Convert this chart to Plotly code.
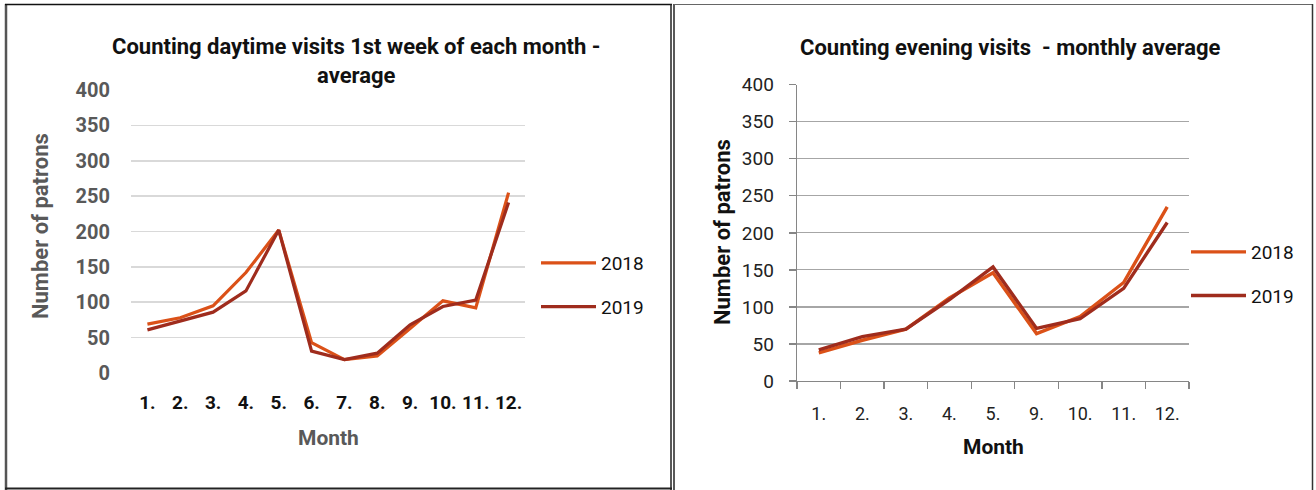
import plotly.graph_objects as go

# ---------------- data ----------------
months_day = ["1.", "2.", "3.", "4.", "5.", "6.", "7.", "8.", "9.", "10.", "11.", "12."]
day_2018 = [69, 78, 95, 142, 202, 43, 19, 24, 63, 102, 92, 255]
day_2019 = [61, 74, 86, 116, 202, 31, 19, 28, 68, 94, 103, 241]

months_eve = ["1.", "2.", "3.", "4.", "5.", "9.", "10.", "11.", "12."]
eve_2018 = [38, 55, 70, 112, 146, 64, 87, 133, 235]
eve_2019 = [42, 60, 70, 110, 154, 71, 84, 125, 214]

y_ticks = [0, 50, 100, 150, 200, 250, 300, 350, 400]
series_names = ["2018", "2019"]

# ---------------- styling ----------------
W, H = 1316, 490
C2018 = "#DB5118"
C2019 = "#9F2C1D"
FONT = "Roboto"


def px(x):
    return x / W


def py(y):
    return 1 - y / H


fig = go.Figure()

# left chart
fig.add_trace(go.Scatter(x=months_day, y=day_2018, name=series_names[0], mode="lines",
                         line=dict(color=C2018, width=3.2), xaxis="x", yaxis="y",
                         legend="legend", legendgroup="a", hoverinfo="skip"))
fig.add_trace(go.Scatter(x=months_day, y=day_2019, name=series_names[1], mode="lines",
                         line=dict(color=C2019, width=3.2), xaxis="x", yaxis="y",
                         legend="legend", legendgroup="b", hoverinfo="skip"))
# right chart
fig.add_trace(go.Scatter(x=months_eve, y=eve_2018, name=series_names[0], mode="lines",
                         line=dict(color=C2018, width=3.4), xaxis="x2", yaxis="y2",
                         legend="legend2", legendgroup="c", hoverinfo="skip"))
fig.add_trace(go.Scatter(x=months_eve, y=eve_2019, name=series_names[1], mode="lines",
                         line=dict(color=C2019, width=3.4), xaxis="x2", yaxis="y2",
                         legend="legend2", legendgroup="d", hoverinfo="skip"))

fig.update_layout(
    template="none",
    width=W, height=H, autosize=False,
    margin=dict(l=0, r=0, t=0, b=0, pad=0, autoexpand=False),
    paper_bgcolor="white", plot_bgcolor="white",
    font=dict(family=FONT, color="#222222"),
    xaxis=dict(domain=[px(131), px(525)], type="category", range=[-0.5, 11.5],
               showgrid=False, showline=False, zeroline=False, automargin=False,
               ticks="", ticklabelstandoff=16, anchor="y",
               tickfont=dict(family=FONT, size=19, color="#111111", weight="bold")),
    yaxis=dict(domain=[py(373), py(90)], range=[0, 400], tickvals=y_ticks,
               showgrid=True, gridcolor="#D9D9D9", gridwidth=1.6, automargin=False,
               zeroline=False, showline=False, ticks="", ticklabelstandoff=20, anchor="x",
               tickfont=dict(family=FONT, size=20, color="#595959", weight="bold")),
    xaxis2=dict(domain=[px(797), px(1189)], type="category", range=[-0.5, 8.5],
                showgrid=False, showline=True, linecolor="#868686", linewidth=1.3,
                zeroline=False, ticks="outside", tickson="boundaries", ticklen=7,
                tickcolor="#868686", tickwidth=1.3, ticklabelstandoff=16,
                anchor="y2", automargin=False,
                tickfont=dict(family=FONT, size=18, color="#222222")),
    yaxis2=dict(domain=[py(381), py(84.7)], range=[0, 400], tickvals=y_ticks,
                showgrid=True, gridcolor="#A6A6A6", gridwidth=1.2, automargin=False,
                zeroline=False, showline=True, linecolor="#868686", linewidth=1.3,
                ticks="outside", ticklen=7, tickcolor="#868686", tickwidth=1.3,
                ticklabelstandoff=11, anchor="x2",
                tickfont=dict(family=FONT, size=19, color="#222222")),
    legend=dict(x=px(536), y=py(244), xanchor="left", yanchor="top",
                bgcolor="rgba(0,0,0,0)", tracegroupgap=16, itemwidth=55,
                font=dict(family=FONT, size=19, color="#111111")),
    legend2=dict(x=px(1186), y=py(233), xanchor="left", yanchor="top",
                 bgcolor="rgba(0,0,0,0)", tracegroupgap=16, itemwidth=55,
                 font=dict(family=FONT, size=19, color="#111111")),
    showlegend=True,
)

annotations = [
    dict(text="Counting daytime visits 1st week of each month -<br>average",
         x=px(357), y=py(61), font=dict(family=FONT, size=22, color="#111111", weight="bold")),
    dict(text="Number of patrons", x=px(40), y=py(226), textangle=-90,
         font=dict(family=FONT, size=22, color="#595959", weight="bold")),
    dict(text="Month", x=px(328), y=py(438),
         font=dict(family=FONT, size=21, color="#595959", weight="bold")),
    dict(text="Counting evening visits  - monthly average",
         x=px(1010), y=py(47), font=dict(family=FONT, size=22, color="#111111", weight="bold")),
    dict(text="Number of patrons", x=px(722), y=py(232), textangle=-90,
         font=dict(family=FONT, size=22, color="#111111", weight="bold")),
    dict(text="Month", x=px(993), y=py(447),
         font=dict(family=FONT, size=21, color="#111111", weight="bold")),
]
for a in annotations:
    a.update(xref="paper", yref="paper", showarrow=False, xanchor="center", yanchor="middle")
fig.update_layout(annotations=annotations)


def line(x0, y0, x1, y1, color, width):
    return dict(type="line", xref="paper", yref="paper",
                x0=px(x0), y0=py(y0), x1=px(x1), y1=py(y1),
                line=dict(color=color, width=width))


shapes = [
    line(6, 4, 6, 490, "#555555", 2.5),        # left edge
    line(5, 4.5, 672, 4.5, "#111111", 1.5),    # top left panel
    line(5, 488.5, 672, 488.5, "#222222", 2),  # bottom left panel
    line(671, 4, 671, 490, "#222222", 1.5),    # double divider
    line(674, 4, 674, 490, "#222222", 1.5),
    line(674, 4.5, 1313, 4.5, "#666666", 1.2),  # top right panel
    line(1312.5, 4, 1312.5, 490, "#333333", 1.5),  # right edge
]
fig.update_layout(shapes=shapes)

fig.write_html("out.html",
               config={"displayModeBar": False, "staticPlot": True},
               post_script="document.body.style.margin='0';document.body.style.overflow='hidden';")
